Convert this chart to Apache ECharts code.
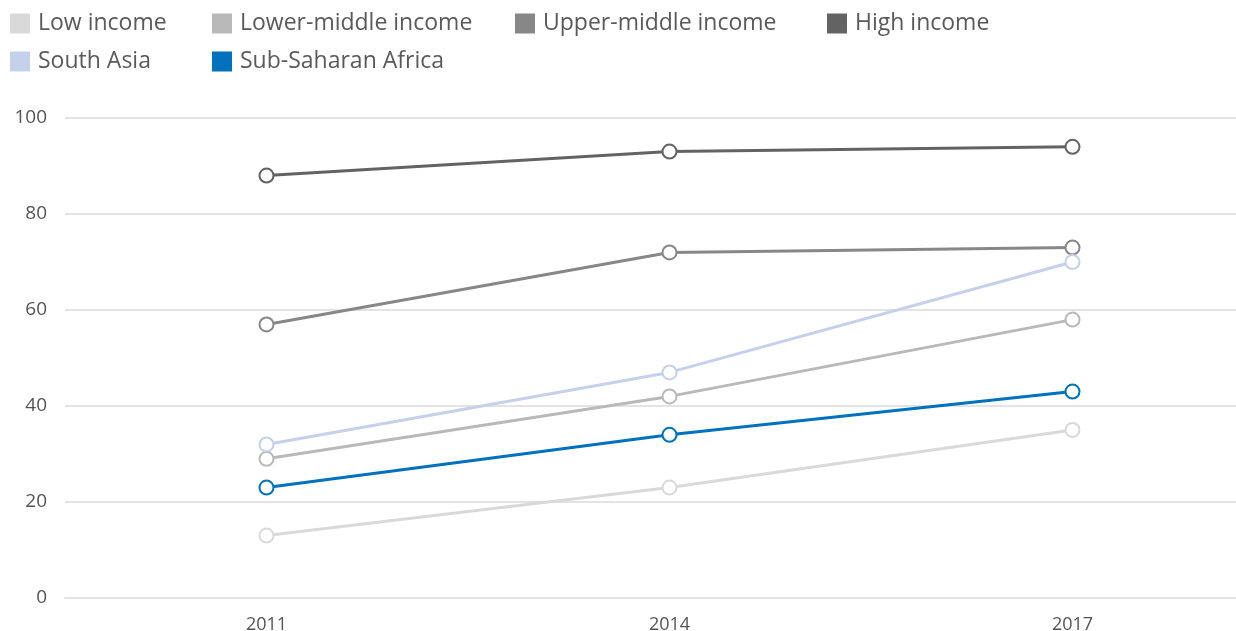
<!DOCTYPE html>
<html><head><meta charset="utf-8">
<script src="https://cdn.jsdelivr.net/npm/echarts@6/dist/echarts.min.js"></script>
<style>html,body{margin:0;padding:0;background:#fff}#c{width:1236px;height:631px}</style>
</head><body><div id="c"></div>
<script>
var years = ['2011', '2014', '2017'];
var seriesNames = ['Low income', 'Lower-middle income', 'Upper-middle income', 'High income', 'South Asia', 'Sub-Saharan Africa'];
var lowIncome = [13, 23, 35];
var lowerMiddle = [29, 42, 58];
var upperMiddle = [57, 72, 73];
var highIncome = [88, 93, 94];
var southAsia = [32, 47, 70];
var subSaharan = [23, 34, 43];
var yTicks = [0, 20, 40, 60, 80, 100];

var colors = ['#d9d9d9', '#b9b9b9', '#878787', '#636363', '#c5d1ea', '#0071bc'];
var values = [lowIncome, lowerMiddle, upperMiddle, highIncome, southAsia, subSaharan];
var legendPos = [[5, 7], [207, 7], [510, 7], [822, 7], [5, 45], [207, 45]];
var font = 'Open Sans';

var chart = echarts.init(document.getElementById('c'));
var legends = seriesNames.map(function (n, i) {
  return {
    data: [{name: n, icon: 'rect'}],
    left: legendPos[i][0], top: legendPos[i][1],
    itemWidth: 18, itemHeight: 18, itemGap: 0,
    textStyle: {fontFamily: font, fontSize: 23, color: '#5a5a5a', padding: [0, 0, 0, 4]},
    selectedMode: false
  };
});
chart.setOption({
  animation: false,
  color: colors,
  legend: legends,
  grid: {left: 65, right: -38, top: 118, bottom: 33, containLabel: false, outerBoundsMode: 'none'},
  xAxis: {
    type: 'category', data: years, boundaryGap: true,
    axisLine: {show: true, lineStyle: {color: '#e3e3e3', width: 2}},
    axisTick: {show: false},
    axisLabel: {fontFamily: font, fontSize: 18, color: '#555', margin: 18}
  },
  yAxis: {
    type: 'value', min: 0, max: 100, interval: 20,
    axisLine: {show: false}, axisTick: {show: false},
    splitLine: {lineStyle: {color: '#e3e3e3', width: 2}},
    axisLabel: {fontFamily: font, fontSize: 19, color: '#555', margin: 18,
      formatter: function (v) { return yTicks.indexOf(v) >= 0 ? String(v) : ''; }}
  },
  series: seriesNames.map(function (n, i) {
    return {
      name: n, type: 'line', data: values[i],
      symbol: 'emptyCircle', symbolSize: 14,
      lineStyle: {width: 3, color: colors[i]},
      itemStyle: {color: colors[i], borderWidth: 2.5, borderColor: colors[i]},
      z: i + 2
    };
  })
});
</script></body></html>
